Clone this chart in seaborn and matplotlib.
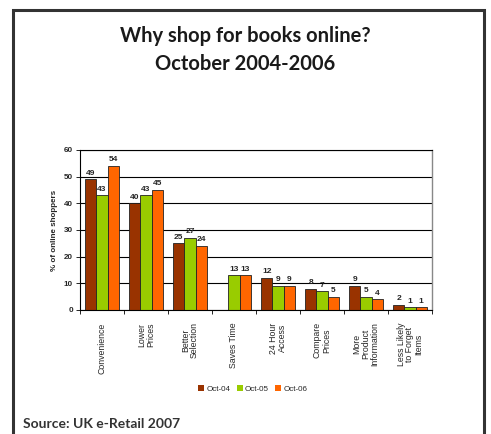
import numpy as np
import pandas as pd
import seaborn as sns
import matplotlib.pyplot as plt
from matplotlib.patches import Rectangle

categories = ["Convenience", "Lower\nPrices", "Better\nSelection", "Saves Time",
              "24 Hour\nAccess", "Compare\nPrices", "More\nProduct\nInformation",
              "Less Likely\nto Forget\nItems"]
periods = ["Oct-04", "Oct-05", "Oct-06"]
oct04 = [49, 40, 25, np.nan, 12, 8, 9, 2]
oct05 = [43, 43, 27, 13, 9, 7, 5, 1]
oct06 = [54, 45, 24, 13, 9, 5, 4, 1]
colors = ["#993300", "#99CC00", "#FF6600"]

df = pd.DataFrame({
    "reason": categories * 3,
    "period": [p for p in periods for _ in categories],
    "share": oct04 + oct05 + oct06,
})

sns.set_theme(style="white")
plt.rcParams["font.family"] = ["Liberation Sans", "DejaVu Sans"]

fig = plt.figure(figsize=(4.91, 4.34), dpi=100)
ax = fig.add_axes([80 / 491, 1 - 310 / 434, 352 / 491, 160 / 434])

sns.barplot(data=df, x="reason", y="share", hue="period", palette=colors,
            order=categories, hue_order=periods, width=0.77, saturation=1,
            edgecolor="#222222", linewidth=0.6, ax=ax, legend=True)

for cont in ax.containers:
    labels = ["" if np.isnan(v) else f"{v:.0f}" for v in cont.datavalues]
    ax.bar_label(cont, labels=labels, padding=2, fontsize=6, fontweight="bold")

ax.set_ylim(0, 60)
ax.set_yticks(range(0, 61, 10))
ax.set_xlim(-0.5, len(categories) - 0.5)
ax.yaxis.grid(True, color="black", linewidth=0.8)
ax.set_axisbelow(True)
ax.set_xlabel("")
ax.set_ylabel("% of online shoppers", fontsize=5.8, fontweight="bold", labelpad=4)

ax.tick_params(axis="y", labelsize=5.8, length=3, width=0.6, color="black",
               left=True, pad=2)
for t in ax.get_yticklabels():
    t.set_fontweight("bold")

# category ticks sit on the group boundaries
ax.set_xticks(np.arange(-0.5, len(categories), 1.0), minor=False)
ax.set_xticklabels([])
ax.tick_params(axis="x", length=3, width=0.6, color="black", bottom=True)
for i, name in enumerate(categories):
    ax.text(i, -4.6, name, rotation=90, ha="center", va="top",
            multialignment="center", fontsize=6.3, linespacing=1.0)

for side in ["left", "bottom"]:
    ax.spines[side].set_color("black")
    ax.spines[side].set_linewidth(0.8)
ax.spines["right"].set_color("#888888")
ax.spines["right"].set_linewidth(1.0)
ax.spines["top"].set_color("black")
ax.spines["top"].set_linewidth(0.8)

leg = ax.legend(loc="center", bbox_to_anchor=(253 / 491, 1 - 389 / 434),
                bbox_transform=fig.transFigure, ncol=3, frameon=False,
                fontsize=5.8, handlelength=0.7, handleheight=0.7,
                handletextpad=0.3, columnspacing=0.8)
for h in leg.legend_handles:
    h.set_edgecolor("none")

fig.text(0.5, 1 - 36 / 434, "Why shop for books online?", ha="center",
         va="center", fontsize=14.5, fontweight="bold", family=["Lato", "DejaVu Sans"],
         color="#1a1a1a")
fig.text(0.5, 1 - 64 / 434, "October 2004-2006", ha="center", va="center",
         fontsize=14.5, fontweight="bold", family=["Lato", "DejaVu Sans"],
         color="#1a1a1a")
fig.text(23 / 491, 1 - 424 / 434, "Source: UK e-Retail 2007", ha="left",
         va="center", fontsize=10, fontweight="bold", family=["Lato", "DejaVu Sans"],
         color="#333333")

fig.patches.append(Rectangle((13 / 491, -0.05), (484 - 13) / 491, 1.05 - 10 / 434,
                             transform=fig.transFigure, fill=False,
                             edgecolor="#333333", linewidth=2.2))

fig.savefig("out.png", dpi=100)
